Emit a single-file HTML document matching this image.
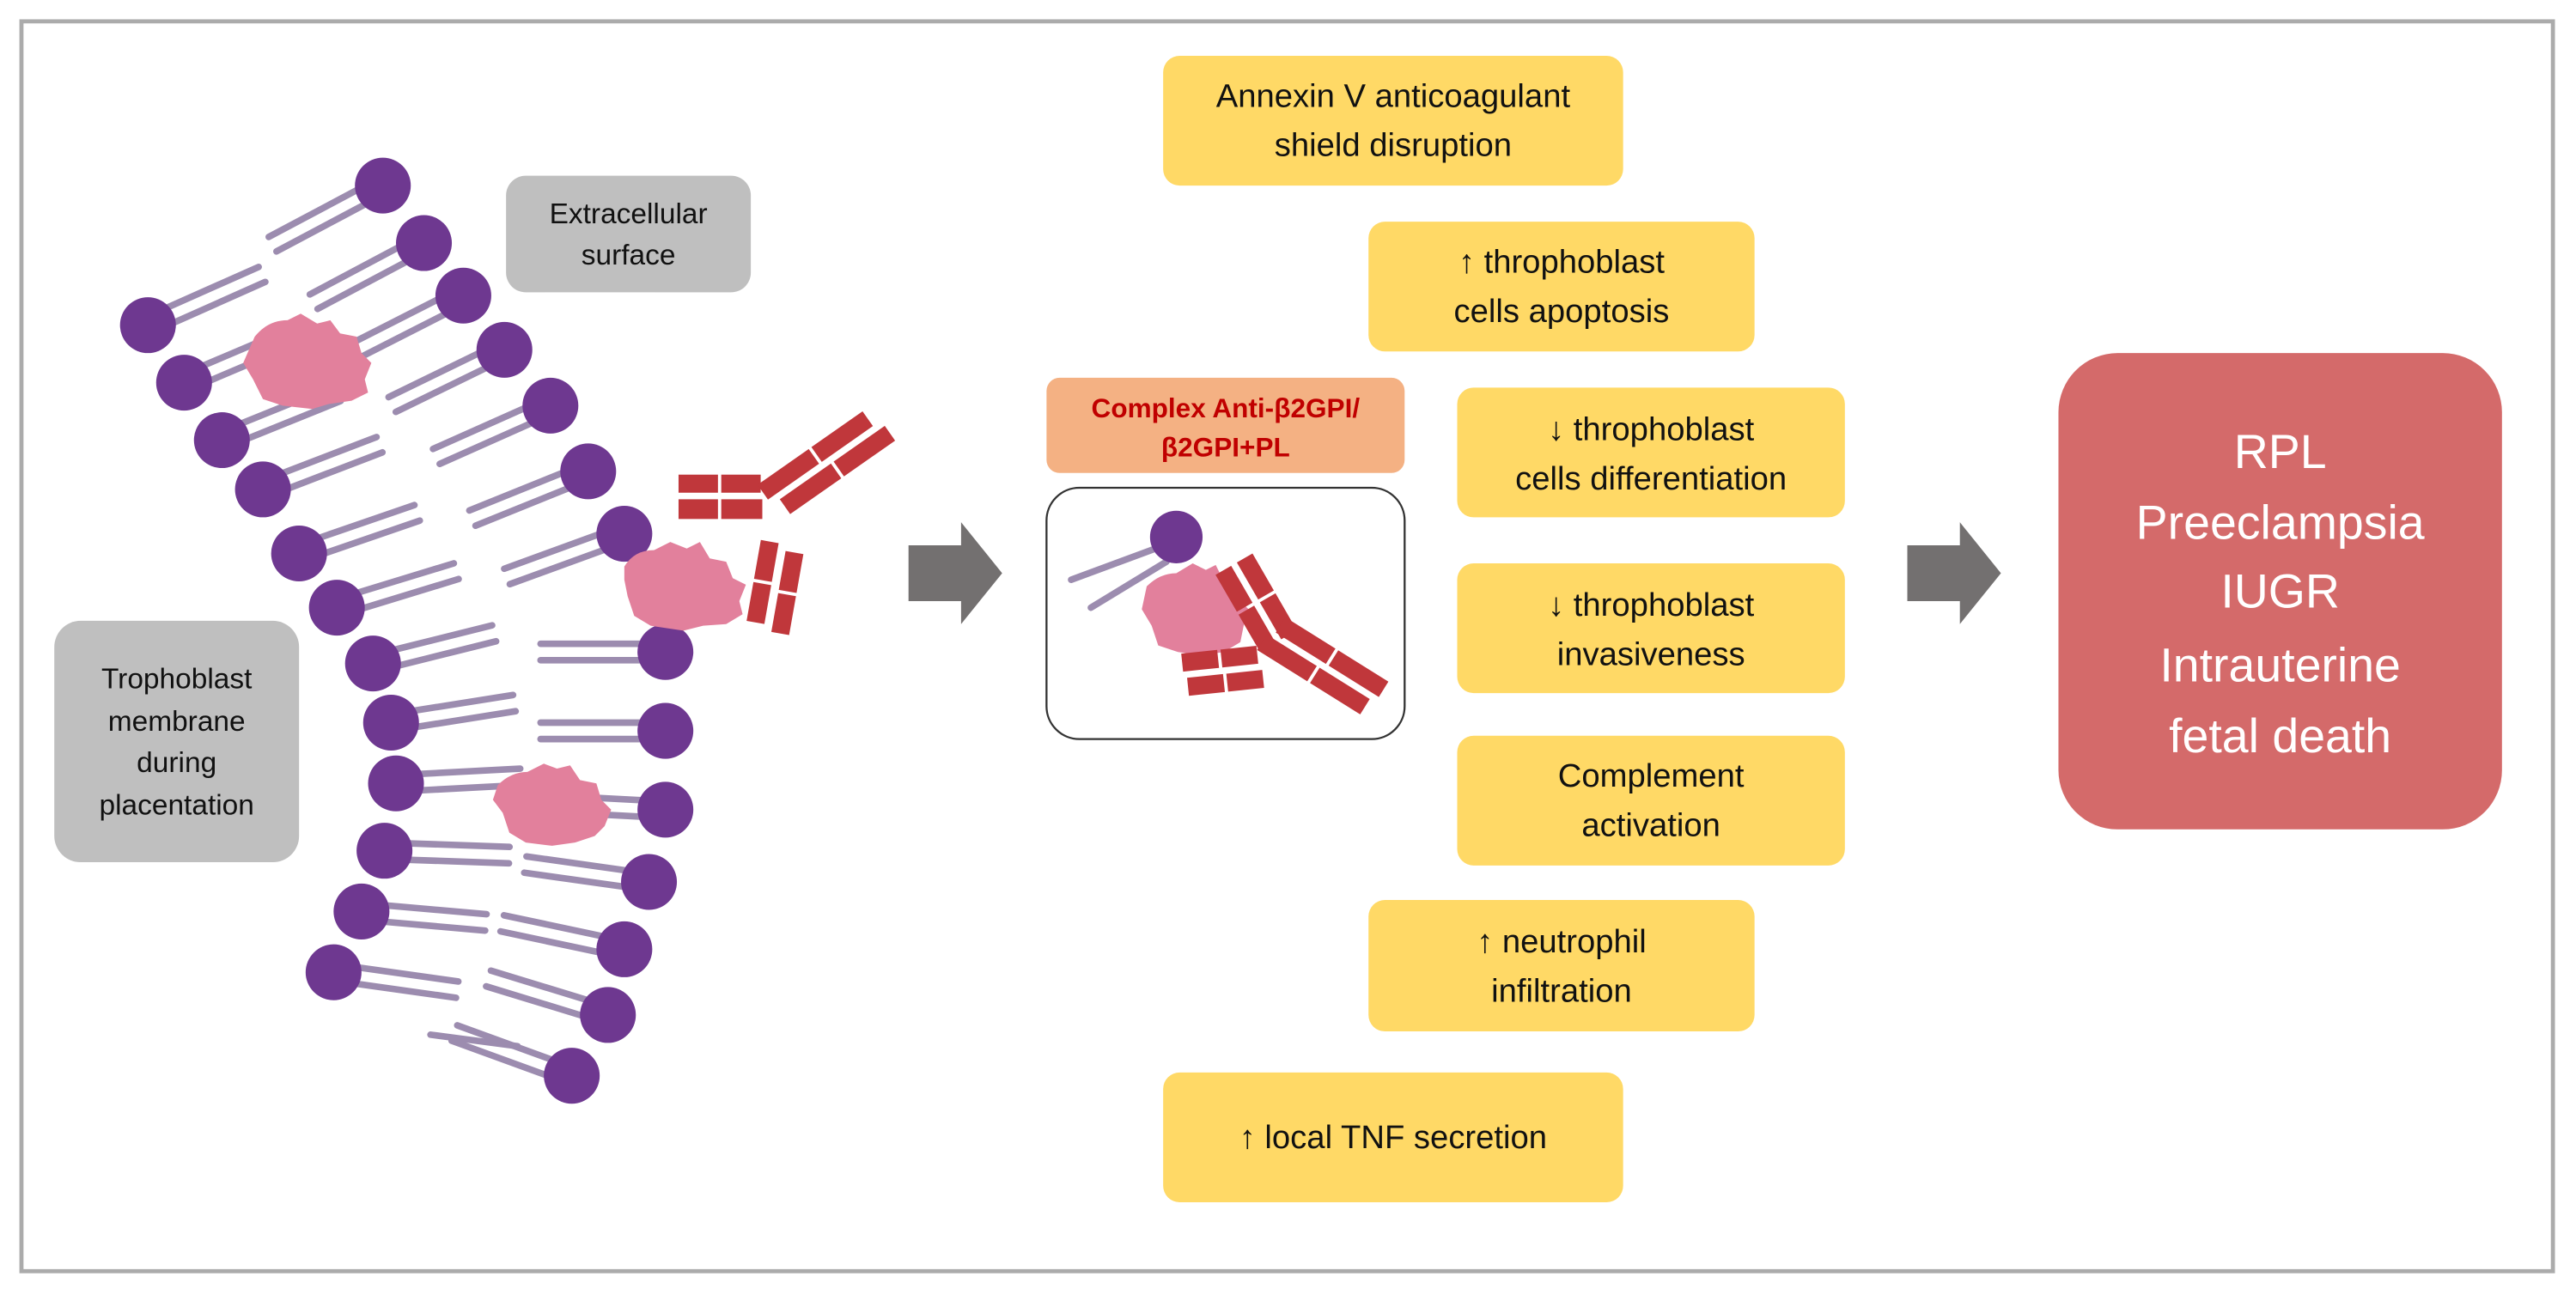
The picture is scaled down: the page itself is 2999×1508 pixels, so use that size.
<!DOCTYPE html>
<html><head><meta charset="utf-8"><style>
html,body{margin:0;padding:0;background:#fff;}
svg{display:block;}
text{font-family:"Liberation Sans",sans-serif;}
</style></head><body>
<svg width="2999" height="1508" viewBox="0 0 1568 788.5" xmlns="http://www.w3.org/2000/svg">
<rect x="0" y="0" width="1568" height="788.5" fill="#fff"/>
<rect x="13" y="13" width="1541" height="761" fill="none" stroke="#ababab" stroke-width="2.5"/>

<rect x="308" y="107" width="149" height="71" rx="12" fill="#bfbfbf"/>
<text x="382.5" y="136" font-size="17.5" text-anchor="middle" fill="#111">Extracellular</text>
<text x="382.5" y="161" font-size="17.5" text-anchor="middle" fill="#111">surface</text>
<rect x="33" y="378" width="149" height="147" rx="16" fill="#bfbfbf"/>
<text x="107.5" y="419" font-size="17.5" text-anchor="middle" fill="#111">Trophoblast</text>
<text x="107.5" y="445" font-size="17.5" text-anchor="middle" fill="#111">membrane</text>
<text x="107.5" y="470" font-size="17.5" text-anchor="middle" fill="#111">during</text>
<text x="107.5" y="496" font-size="17.5" text-anchor="middle" fill="#111">placentation</text>

<g stroke="#9c8caf" stroke-width="4" stroke-linecap="round">
<g transform="translate(233,113) rotate(-28)"><line x1="-10" y1="-5" x2="-76" y2="-5"/><line x1="-10" y1="5" x2="-76" y2="5"/></g>
<g transform="translate(258,148) rotate(-28)"><line x1="-10" y1="-5" x2="-76" y2="-5"/><line x1="-10" y1="5" x2="-76" y2="5"/></g>
<g transform="translate(282,180) rotate(-27)"><line x1="-10" y1="-5" x2="-76" y2="-5"/><line x1="-10" y1="5" x2="-76" y2="5"/></g>
<g transform="translate(307,213) rotate(-26)"><line x1="-10" y1="-5" x2="-76" y2="-5"/><line x1="-10" y1="5" x2="-76" y2="5"/></g>
<g transform="translate(335,247) rotate(-24)"><line x1="-10" y1="-5" x2="-76" y2="-5"/><line x1="-10" y1="5" x2="-76" y2="5"/></g>
<g transform="translate(358,287) rotate(-22)"><line x1="-10" y1="-5" x2="-76" y2="-5"/><line x1="-10" y1="5" x2="-76" y2="5"/></g>
<g transform="translate(380,325) rotate(-20)"><line x1="-10" y1="-5" x2="-76" y2="-5"/><line x1="-10" y1="5" x2="-76" y2="5"/></g>
<g transform="translate(405,397) rotate(0)"><line x1="-10" y1="-5" x2="-76" y2="-5"/><line x1="-10" y1="5" x2="-76" y2="5"/></g>
<g transform="translate(405,445) rotate(0)"><line x1="-10" y1="-5" x2="-76" y2="-5"/><line x1="-10" y1="5" x2="-76" y2="5"/></g>
<g transform="translate(405,493) rotate(3)"><line x1="-10" y1="-5" x2="-76" y2="-5"/><line x1="-10" y1="5" x2="-76" y2="5"/></g>
<g transform="translate(395,537) rotate(8)"><line x1="-10" y1="-5" x2="-76" y2="-5"/><line x1="-10" y1="5" x2="-76" y2="5"/></g>
<g transform="translate(380,578) rotate(12)"><line x1="-10" y1="-5" x2="-76" y2="-5"/><line x1="-10" y1="5" x2="-76" y2="5"/></g>
<g transform="translate(370,618) rotate(17)"><line x1="-10" y1="-5" x2="-76" y2="-5"/><line x1="-10" y1="5" x2="-76" y2="5"/></g>
<g transform="translate(348,655) rotate(20)"><line x1="-10" y1="-5" x2="-76" y2="-5"/><line x1="-10" y1="5" x2="-76" y2="5"/></g>
<g transform="translate(90,198) rotate(-24)"><line x1="10" y1="-5" x2="76" y2="-5"/><line x1="10" y1="5" x2="76" y2="5"/></g>
<g transform="translate(112,233) rotate(-23)"><line x1="10" y1="-5" x2="76" y2="-5"/><line x1="10" y1="5" x2="76" y2="5"/></g>
<g transform="translate(135,268) rotate(-22)"><line x1="10" y1="-5" x2="76" y2="-5"/><line x1="10" y1="5" x2="76" y2="5"/></g>
<g transform="translate(160,298) rotate(-21)"><line x1="10" y1="-5" x2="76" y2="-5"/><line x1="10" y1="5" x2="76" y2="5"/></g>
<g transform="translate(182,337) rotate(-19)"><line x1="10" y1="-5" x2="76" y2="-5"/><line x1="10" y1="5" x2="76" y2="5"/></g>
<g transform="translate(205,370) rotate(-17)"><line x1="10" y1="-5" x2="76" y2="-5"/><line x1="10" y1="5" x2="76" y2="5"/></g>
<g transform="translate(227,404) rotate(-14)"><line x1="10" y1="-5" x2="76" y2="-5"/><line x1="10" y1="5" x2="76" y2="5"/></g>
<g transform="translate(238,440) rotate(-9)"><line x1="10" y1="-5" x2="76" y2="-5"/><line x1="10" y1="5" x2="76" y2="5"/></g>
<g transform="translate(241,477) rotate(-3)"><line x1="10" y1="-5" x2="76" y2="-5"/><line x1="10" y1="5" x2="76" y2="5"/></g>
<g transform="translate(234,518) rotate(2)"><line x1="10" y1="-5" x2="76" y2="-5"/><line x1="10" y1="5" x2="76" y2="5"/></g>
<g transform="translate(220,555) rotate(5)"><line x1="10" y1="-5" x2="76" y2="-5"/><line x1="10" y1="5" x2="76" y2="5"/></g>
<g transform="translate(203,592) rotate(8)"><line x1="10" y1="-5" x2="76" y2="-5"/><line x1="10" y1="5" x2="76" y2="5"/></g>
<line x1="262" y1="630" x2="315" y2="637"/>
</g>
<g fill="#6e3890">
<circle cx="233" cy="113" r="17"/><circle cx="258" cy="148" r="17"/><circle cx="282" cy="180" r="17"/><circle cx="307" cy="213" r="17"/><circle cx="335" cy="247" r="17"/><circle cx="358" cy="287" r="17"/><circle cx="380" cy="325" r="17"/><circle cx="405" cy="397" r="17"/><circle cx="405" cy="445" r="17"/><circle cx="405" cy="493" r="17"/><circle cx="395" cy="537" r="17"/><circle cx="380" cy="578" r="17"/><circle cx="370" cy="618" r="17"/><circle cx="348" cy="655" r="17"/>
<circle cx="90" cy="198" r="17"/><circle cx="112" cy="233" r="17"/><circle cx="135" cy="268" r="17"/><circle cx="160" cy="298" r="17"/><circle cx="182" cy="337" r="17"/><circle cx="205" cy="370" r="17"/><circle cx="227" cy="404" r="17"/><circle cx="238" cy="440" r="17"/><circle cx="241" cy="477" r="17"/><circle cx="234" cy="518" r="17"/><circle cx="220" cy="555" r="17"/><circle cx="203" cy="592" r="17"/>
</g>
<g fill="#e2809c">
<path d="M155,205 q8,-10 20,-10 l8,-4 10,6 8,-2 6,8 10,2 3,10 6,6 -4,10 2,8 -10,5 -14,2 -10,3 -18,-2 -12,-4 -6,-12 -6,-10z"/>
<path d="M380,345 q6,-10 18,-10 l10,-5 10,4 8,-4 6,10 10,2 4,10 8,4 -4,10 2,8 -10,6 -14,1 -12,3 -20,-3 -10,-6 -4,-12 -2,-10z"/>
<path d="M303,478 q8,-8 18,-8 l10,-5 8,3 8,-2 6,9 10,2 3,10 6,6 -4,10 -6,6 -12,4 -14,2 -16,-2 -10,-6 -4,-12 -6,-8z"/>
</g>
<g fill="#c0373b">
<rect x="413" y="289" width="24" height="11"/><rect x="439" y="289" width="24" height="11"/>
<rect x="413" y="304" width="24" height="12"/><rect x="439" y="304" width="25" height="12"/>
<g transform="translate(468,305) rotate(-35)"><rect x="0" y="-12" width="38" height="11"/><rect x="40" y="-12" width="38" height="11"/><rect x="6" y="3" width="38" height="11"/><rect x="46" y="3" width="38" height="11"/></g>
<g transform="translate(470,330) rotate(100)"><rect x="0" y="-4" width="24" height="11"/><rect x="26" y="-4" width="24" height="11"/><rect x="4" y="-20" width="24" height="11"/><rect x="30" y="-20" width="24" height="11"/></g>
</g>

<path d="M553,332 L585,332 L585,318 L610,349 L585,380 L585,366 L553,366 Z" fill="#737070"/>
<path d="M1161,332 L1193,332 L1193,318 L1218,349 L1193,380 L1193,366 L1161,366 Z" fill="#737070"/>

<rect x="637" y="230" width="218" height="58" rx="8" fill="#f4b183"/>
<text x="746" y="254" font-size="16.5" font-weight="bold" text-anchor="middle" fill="#c00000">Complex Anti-β2GPI/</text>
<text x="746" y="278" font-size="16.5" font-weight="bold" text-anchor="middle" fill="#c00000">β2GPI+PL</text>
<rect x="637" y="297" width="218" height="153" rx="20" fill="#fff" stroke="#333" stroke-width="1.2"/>
<g stroke="#9c8caf" stroke-width="4" stroke-linecap="round">
<line x1="706" y1="333" x2="652" y2="353"/><line x1="710" y1="342" x2="664" y2="370"/>
</g>
<circle cx="716" cy="327" r="16" fill="#6e3890"/>
<path d="M698,357 q8,-8 18,-8 l10,-6 8,4 6,-3 4,8 8,3 2,10 6,6 -3,10 -2,10 -10,6 -14,2 -14,-2 -12,-4 -4,-12 -6,-10z" fill="#e2809c"/>
<g fill="#c0373b">
<g transform="translate(752,343) rotate(60)"><rect x="0" y="-12" width="26" height="11"/><rect x="28" y="-12" width="26" height="11"/><rect x="0" y="3" width="26" height="11"/><rect x="28" y="3" width="26" height="11"/></g>
<g transform="translate(776,386) rotate(32)"><rect x="0" y="-12" width="36" height="11"/><rect x="38" y="-12" width="36" height="11"/><rect x="-4" y="3" width="36" height="11"/><rect x="34" y="3" width="36" height="11"/></g>
<g transform="translate(719,398) rotate(-6)"><rect x="0" y="0" width="22" height="11"/><rect x="24" y="0" width="22" height="11"/><rect x="2" y="15" width="22" height="11"/><rect x="26" y="15" width="22" height="11"/></g>
</g>

<g fill="#ffd966">
<rect x="708" y="34" width="280" height="79" rx="10"/>
<rect x="833" y="135" width="235" height="79" rx="10"/>
<rect x="887" y="236" width="236" height="79" rx="10"/>
<rect x="887" y="343" width="236" height="79" rx="10"/>
<rect x="887" y="448" width="236" height="79" rx="10"/>
<rect x="833" y="548" width="235" height="80" rx="10"/>
<rect x="708" y="653" width="280" height="79" rx="10"/>
</g>
<g font-size="20" text-anchor="middle" fill="#111">
<text x="848" y="65">Annexin V anticoagulant</text><text x="848" y="95">shield disruption</text>
<text x="950.5" y="166">↑ throphoblast</text><text x="950.5" y="196">cells apoptosis</text>
<text x="1005" y="268">↓ throphoblast</text><text x="1005" y="298">cells differentiation</text>
<text x="1005" y="375">↓ throphoblast</text><text x="1005" y="405">invasiveness</text>
<text x="1005" y="479">Complement</text><text x="1005" y="509">activation</text>
<text x="950.5" y="580">↑ neutrophil</text><text x="950.5" y="610">infiltration</text>
<text x="848" y="699">↑ local TNF secretion</text>
</g>

<rect x="1253" y="215" width="270" height="290" rx="36" fill="#d46a6a"/>
<g font-size="29" text-anchor="middle" fill="#fff">
<text x="1388" y="285">RPL</text>
<text x="1388" y="328">Preeclampsia</text>
<text x="1388" y="370">IUGR</text>
<text x="1388" y="415">Intrauterine</text>
<text x="1388" y="458">fetal death</text>
</g>
</svg>
</body></html>
